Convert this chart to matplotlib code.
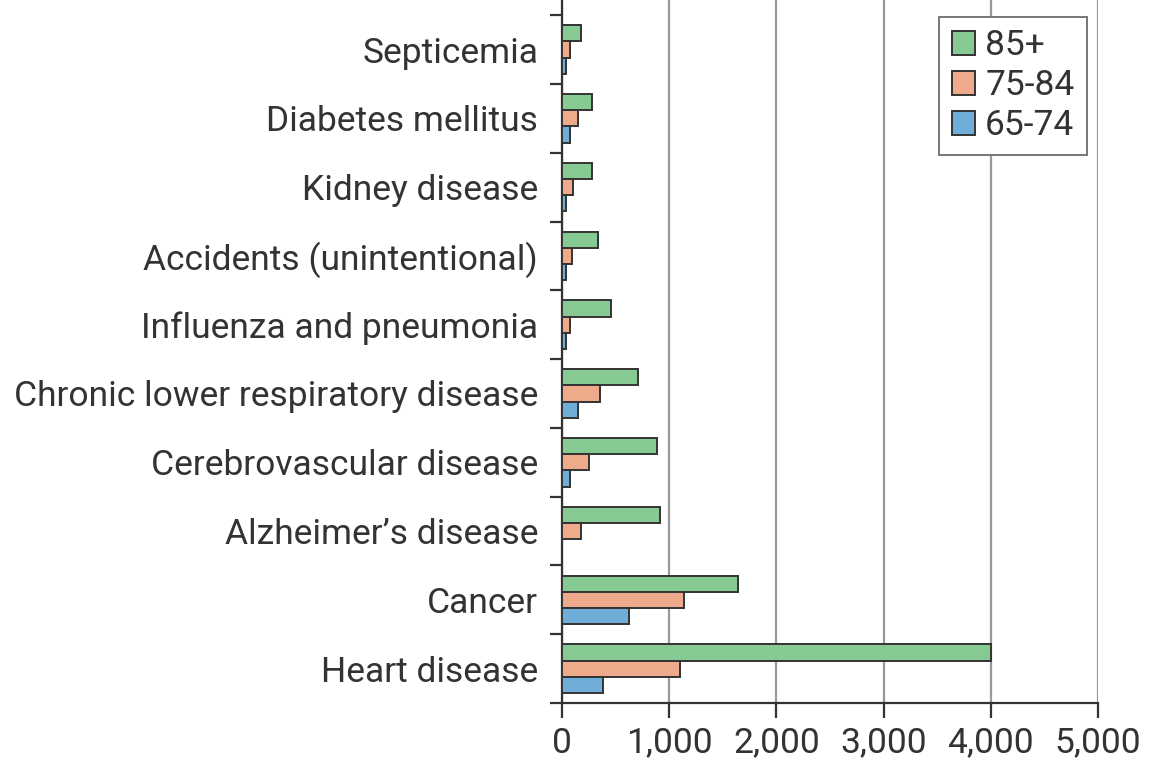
import numpy as np
from matplotlib import pyplot as plt
from matplotlib.ticker import FixedLocator, FuncFormatter

causes = ["Heart disease", "Cancer", "Alzheimer\u2019s disease", "Cerebrovascular disease",
          "Chronic lower respiratory disease", "Influenza and pneumonia",
          "Accidents (unintentional)", "Kidney disease", "Diabetes mellitus", "Septicemia"]
age_85 = [4000, 1640, 915, 890, 710, 455, 340, 285, 285, 175]
age_75 = [1100, 1140, 175, 250, 360, 80, 95, 100, 150, 80]
age_65 = [380, 630, 0, 80, 150, 35, 40, 35, 80, 40]
series_names = ["85+", "75-84", "65-74"]

plt.rcParams["font.family"] = ["Roboto", "DejaVu Sans"]
FS = 25.5

fig = plt.figure(figsize=(11.49, 7.66), dpi=100)
ax = fig.add_axes([0.489, 0.0822, 0.4667, 0.9178])

y = np.arange(len(causes))
h = 0.235
edge = "#333333"
ax.barh(y + h, age_85, height=h, color="#86c993", edgecolor=edge, linewidth=1.4, label=series_names[0], zorder=3)
ax.barh(y, age_75, height=h, color="#eeaa8a", edgecolor=edge, linewidth=1.4, label=series_names[1], zorder=3)
ax.barh(y - h, age_65, height=h, color="#6eaed8", edgecolor=edge, linewidth=1.4, label=series_names[2], zorder=3)

ax.set_xlim(0, 5000)
ax.set_ylim(-0.5, 9.72)
ax.set_xticks(range(0, 5001, 1000))
ax.xaxis.set_major_formatter(FuncFormatter(lambda v, p: f"{int(v):,}"))
ax.grid(True, axis="x", color="#999999", linewidth=1.6, zorder=0)

# category boundaries carry tick marks, names sit between them
ax.yaxis.set_major_locator(FixedLocator(np.arange(-0.5, len(causes), 1.0)))
ax.yaxis.set_minor_locator(FixedLocator(y))
ax.set_yticklabels([""] * (len(causes) + 1))
ax.set_yticklabels(causes, minor=True)
ax.tick_params(axis="y", which="major", length=9, width=1.6, color=edge, direction="out")
ax.tick_params(axis="y", which="minor", length=0, pad=17, labelsize=FS, labelcolor="#333333")
ax.tick_params(axis="x", length=11, width=1.6, color=edge, direction="out", pad=6,
               labelsize=FS, labelcolor="#333333")

for s in ["top", "right"]:
    ax.spines[s].set_visible(False)
for s in ["left", "bottom"]:
    ax.spines[s].set_linewidth(1.6)
    ax.spines[s].set_color(edge)

leg = ax.legend(loc="upper right", bbox_to_anchor=(0.979, 0.976), fontsize=FS, frameon=True,
                fancybox=False, edgecolor="#777777", framealpha=1, handlelength=0.65,
                handleheight=0.65, handletextpad=0.3, borderpad=0.35, labelspacing=0.2,
                borderaxespad=0)
leg.get_frame().set_linewidth(1.4)
for t in leg.get_texts():
    t.set_color("#333333")

fig.savefig("out.png", dpi=100)
